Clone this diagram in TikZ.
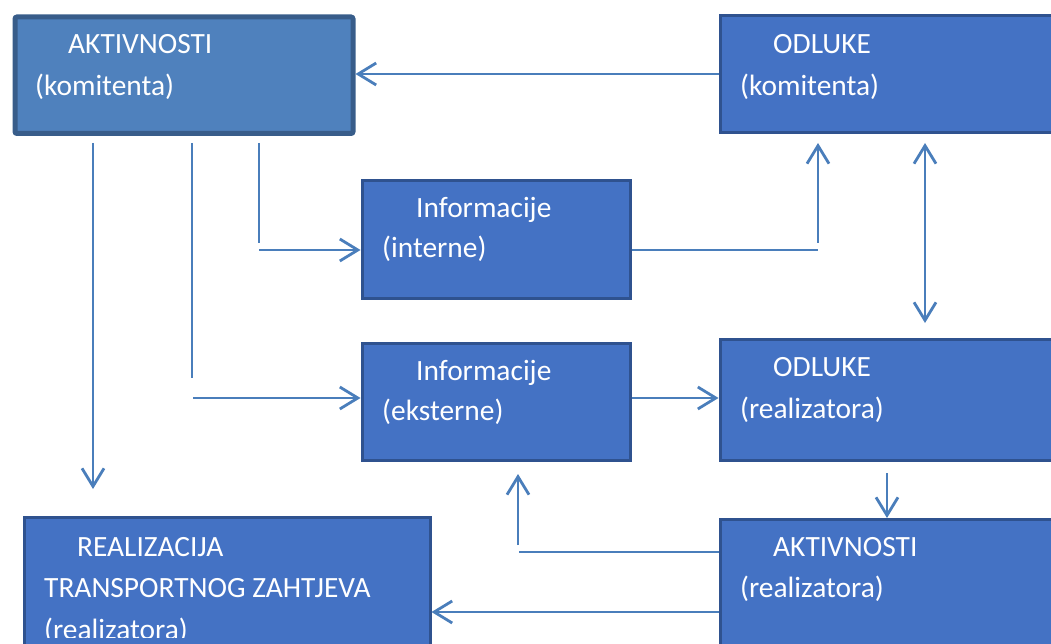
\documentclass[tikz,border=0pt]{standalone}
\usepackage{fontspec}
\setmainfont{Carlito}
\usetikzlibrary{arrows.meta}
\definecolor{boxfill}{RGB}{68,114,196}
\definecolor{boxline}{RGB}{47,82,143}
\definecolor{akfill}{RGB}{79,129,189}
\definecolor{akline}{RGB}{56,93,138}
\definecolor{conn}{RGB}{74,126,187}
\tikzset{
  box/.style={draw=boxline, fill=boxfill, line width=3pt, inner sep=0pt, anchor=north west, rectangle},
  akbox/.style={draw=akline, fill=akfill, line width=5pt, inner sep=0pt, anchor=north west, rectangle, rounded corners=2pt},
  lbl/.style={anchor=base west, inner sep=0pt, text=white, font=\fontsize{29.4}{41}\selectfont},
  conline/.style={draw=conn, line width=2.8pt},
  thinline/.style={draw=conn, line width=1.8pt},
  arr/.style={conline, -{Straight Barb[length=18pt,width=22pt,line width=2.8pt]}},
  darr/.style={conline, {Straight Barb[length=18pt,width=22pt,line width=2.8pt]}-{Straight Barb[length=18pt,width=22pt,line width=2.8pt]}}
}
\begin{document}
\begin{tikzpicture}[x=1pt,y=-1pt]
\useasboundingbox (0,0) rectangle (1051,644);
% boxes
\node[akbox, minimum width=338pt, minimum height=116.5pt] (ak) at (12.5,14.5) {};
\node[box, minimum width=345pt, minimum height=117pt] (odk) at (718.5,14.5) {};
\node[box, minimum width=268pt, minimum height=117pt] (iin) at (360.5,179.5) {};
\node[box, minimum width=268pt, minimum height=117pt] (iex) at (360.5,342) {};
\node[box, minimum width=345pt, minimum height=121.5pt] (ore) at (718.5,337.5) {};
\node[box, minimum width=345pt, minimum height=140pt] (are) at (718.5,518) {};
\node[box, minimum width=406pt, minimum height=140pt] (real) at (22.5,516) {};
% labels
\node[lbl] (t1a) at (68,54) {AKTIVNOSTI};
\node[lbl] (t1b) at (35,96) {(komitenta)};
\node[lbl] (t2a) at (773,54) {ODLUKE};
\node[lbl] (t2b) at (740,96) {(komitenta)};
\node[lbl] (t3a) at (416,218) {Informacije};
\node[lbl] (t3b) at (382,258) {(interne)};
\node[lbl] (t4a) at (416,380) {Informacije};
\node[lbl] (t4b) at (382,420) {(eksterne)};
\node[lbl] (t5a) at (773,376) {ODLUKE};
\node[lbl] (t5b) at (740,418) {(realizatora)};
\node[lbl] (t6a) at (773,556) {AKTIVNOSTI};
\node[lbl] (t6b) at (740,597) {(realizatora)};
\node[lbl] (t7a) at (77,556) {REALIZACIJA};
\node[lbl] (t7b) at (44,597) {TRANSPORTNOG ZAHTJEVA};
\begin{scope}
\clip (0,0) rectangle (1051,637);
\node[lbl] (t7c) at (44,639) {(realizatora)};
\end{scope}
% free-end coordinates
\coordinate (a1) at (93,143);
\coordinate (a2) at (93,489);
\coordinate (b1) at (192,143);
\coordinate (b2) at (192,378);
\coordinate (b3) at (193,398);
\coordinate (c1) at (259,143);
\coordinate (c2) at (259,243);
\coordinate (c3) at (259,250);
\coordinate (d1) at (818,250);
\coordinate (d2) at (818,243);
\coordinate (d3) at (818,143);
\coordinate (e1) at (925,143);
\coordinate (e2) at (925,323);
\coordinate (f1) at (887,473);
\coordinate (g1) at (519,552);
\coordinate (g2) at (518,545);
\coordinate (g3) at (518,474);
\coordinate (h1) at (0,612);
% connectors
\draw[arr] (odk.west |- 0,74) -- (ak.east |- 0,74);
\draw[arr] (a1) -- (a2);
\draw[thinline] (b1) -- (b2);
\draw[arr] (b3) -- (iex.west |- b3);
\draw[conline] (c1) -- (c2);
\draw[arr] (c3) -- (iin.west |- c3);
\draw[thinline] (iin.east |- d1) -- (d1);
\draw[arr] (d2) -- (d3);
\draw[darr] (e1) -- (e2);
\draw[arr] (iex.east |- b3) -- (ore.west |- b3);
\draw[arr] (f1) -- (are.north -| f1);
\draw[conline] (are.west |- g1) -- (g1);
\draw[arr] (g2) -- (g3);
\draw[arr] (are.west |- h1) -- (real.east |- h1);
\end{tikzpicture}
\end{document}
